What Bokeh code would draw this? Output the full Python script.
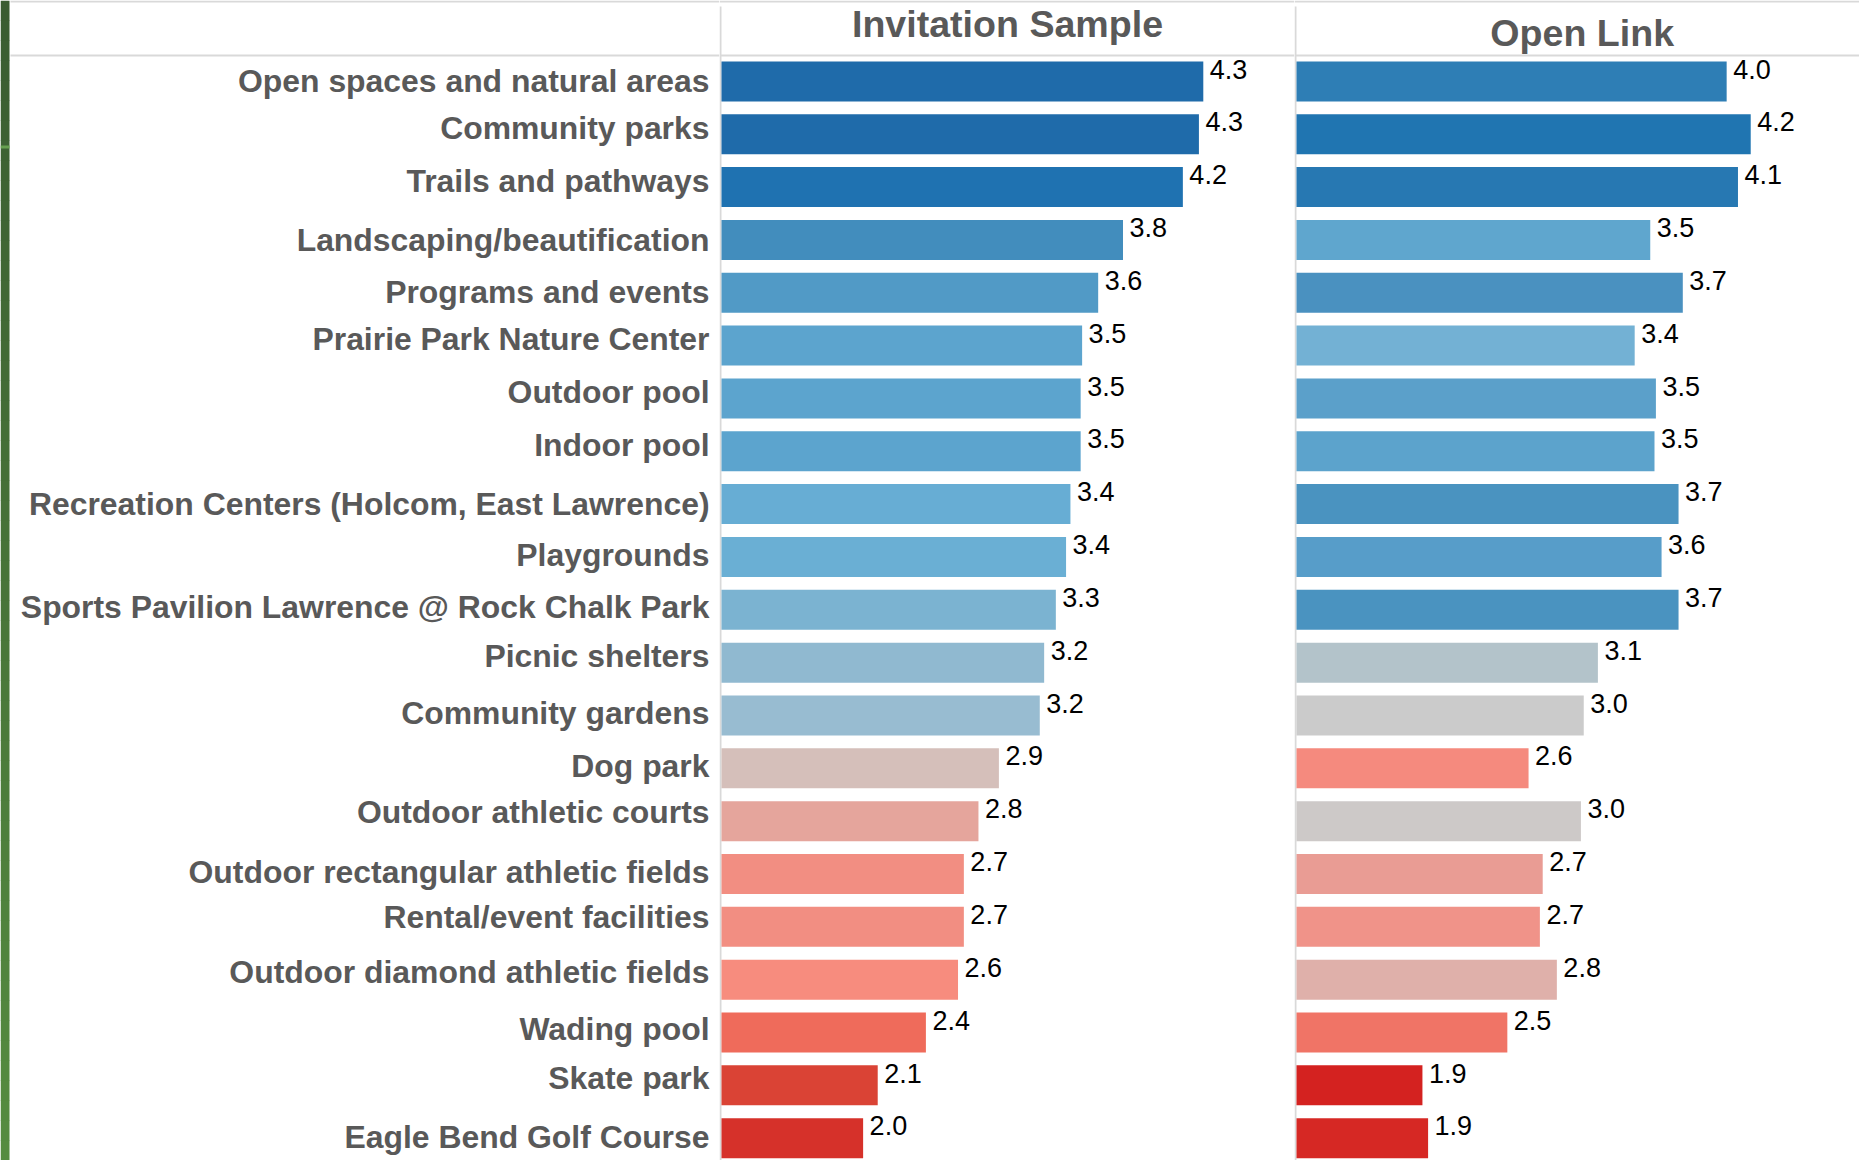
from bokeh.plotting import figure
from bokeh.layouts import row
from bokeh.models import Range1d, Span, ColumnDataSource
from bokeh.embed import file_html
from bokeh.resources import INLINE
from bokeh.core.properties import value

# ---------------- data ----------------
categories = [
    "Open spaces and natural areas",
    "Community parks",
    "Trails and pathways",
    "Landscaping/beautification",
    "Programs and events",
    "Prairie Park Nature Center",
    "Outdoor pool",
    "Indoor pool",
    "Recreation Centers (Holcom, East Lawrence)",
    "Playgrounds",
    "Sports Pavilion Lawrence @ Rock Chalk Park",
    "Picnic shelters",
    "Community gardens",
    "Dog park",
    "Outdoor athletic courts",
    "Outdoor rectangular athletic fields",
    "Rental/event facilities",
    "Outdoor diamond athletic fields",
    "Wading pool",
    "Skate park",
    "Eagle Bend Golf Course",
]
invitation = [4.30, 4.27, 4.16, 3.75, 3.58, 3.47, 3.46, 3.46, 3.39, 3.36, 3.29,
              3.21, 3.18, 2.90, 2.76, 2.66, 2.66, 2.62, 2.40, 2.07, 1.97]
open_link = [4.04, 4.21, 4.12, 3.50, 3.73, 3.39, 3.54, 3.53, 3.70, 3.58, 3.70,
             3.13, 3.03, 2.64, 3.01, 2.74, 2.72, 2.84, 2.49, 1.89, 1.93]
panel_titles = ["Invitation Sample", "Open Link"]

# ---------------- styles ----------------
inv_colors = ["#1F6BAA", "#1F6BAA", "#1F72B1", "#428DBD", "#519AC6", "#5CA4CE",
              "#5CA4CE", "#5CA4CE", "#67ADD4", "#6AAFD4", "#7BB3D1", "#90B9D0",
              "#98BCD1", "#D5BFBA", "#E5A59C", "#F28E82", "#F28E82", "#F78C7E",
              "#EF6B5B", "#DA4335", "#D6312A"]
ol_colors = ["#2E7EB5", "#2075B1", "#2778B2", "#5FA6CE", "#4A91C0", "#73B1D4",
             "#5BA0CA", "#5CA3CC", "#4A93C0", "#579DC9", "#4A93C0", "#B3C3CA",
             "#CBCBCB", "#F58A7E", "#CDC9C8", "#E99C94", "#F09389", "#DFB0AA",
             "#F07466", "#D42220", "#D62824"]
# small upward nudges (px) of the category labels, as placed in the original
label_nudge_px = [0, 5.5, 5.9, 0, 0.2, 6.5, 6.2, 6.3, 0.2, 2.0, 2.8,
                  6.3, 1.9, 1.6, 9.1, 1.2, 9.1, 7.0, 3.1, 6.6, 0.9]

FONT = "Liberation Sans"
GRID = "#d9d9d9"
LABEL = "#595959"
SHIFT = 0.37  # em, vertical correction of the svg text baseline

H = 1160
ROW_PX = 52.84
FIRST_ROW_PX = 80.9
Y_TOP = FIRST_ROW_PX / ROW_PX
Y_BOT = -(H - FIRST_ROW_PX) / ROW_PX
yr = Range1d(start=Y_BOT, end=Y_TOP)


def ypx(px):
    return Y_TOP - px / ROW_PX


rows_y = [-i for i in range(len(categories))]


def base_fig(width, xr):
    p = figure(width=width, height=H, x_range=xr, y_range=yr,
               output_backend="svg", toolbar_location=None,
               x_axis_location=None, y_axis_location=None,
               min_border=0, outline_line_color=None,
               background_fill_color="white", border_fill_color="white")
    p.xgrid.grid_line_color = None
    p.ygrid.grid_line_color = None
    return p


# ---------------- label column ----------------
WL = 719
pl = base_fig(WL, Range1d(0, WL))

# green strip (gradient)
N = 58
c0 = (58, 92, 49)
c1 = (85, 140, 64)
tops, bots, cols = [], [], []
for k in range(N):
    t = k / (N - 1)
    c = tuple(int(round(c0[j] + (c1[j] - c0[j]) * t)) for j in range(3))
    tops.append(ypx(k * H / N))
    bots.append(ypx((k + 1) * H / N + 0.5))
    cols.append("#%02x%02x%02x" % c)
pl.quad(left=0, right=9, top=tops, bottom=bots, fill_color=cols, line_color=None)
pl.quad(left=[0], right=[9], top=[ypx(145)], bottom=[ypx(148)],
        fill_color="#67a050", line_color=None)

pl.segment(x0=[10], y0=[ypx(1)], x1=[WL], y1=[ypx(1)], line_color=GRID, line_width=2)
pl.segment(x0=[10], y0=[ypx(55)], x1=[WL], y1=[ypx(55)], line_color=GRID, line_width=2)

LAB_FS = 31.9
lab_src = ColumnDataSource(dict(
    x=[709] * len(categories),
    y=[r + (n - (0.358 - SHIFT) * LAB_FS) / ROW_PX for r, n in zip(rows_y, label_nudge_px)],
    t=categories))
pl.text(x="x", y="y", text="t", source=lab_src, text_align="right",
        text_baseline="alphabetic", text_font=value(FONT), text_font_style="bold",
        text_font_size=f"{LAB_FS}px", text_color=LABEL)


# ---------------- panels ----------------
def panel(width, k, vals, colors, title, title_px, title_center_px):
    xr = Range1d(1 - 2 / k, 1 + (width - 2) / k)
    p = base_fig(width, xr)
    p.add_layout(Span(location=ypx(1), dimension="width", line_color=GRID, line_width=2))
    p.add_layout(Span(location=ypx(55), dimension="width", line_color=GRID, line_width=2))
    p.segment(x0=[1 - 1 / k], y0=[ypx(6)], x1=[1 - 1 / k], y1=[Y_BOT],
              line_color=GRID, line_width=2)
    VAL_FS = 27
    src = ColumnDataSource(dict(y=rows_y, v=vals, c=colors,
                                ty=[r + (12 + (SHIFT - 0.358) * VAL_FS) / ROW_PX for r in rows_y],
                                t=[f"{v:.1f}" for v in vals]))
    p.hbar(y="y", left=1, right="v", height=40 / ROW_PX, fill_color="c",
           line_color=None, source=src)
    p.text(x="v", y="ty", text="t", source=src, x_offset=6.5, text_align="left",
           text_baseline="alphabetic", text_font=value(FONT),
           text_font_size=f"{VAL_FS}px", text_color="black")
    TFS = 37.6
    p.text(x=[1 + (title_px - 2) / k],
           y=[ypx(title_center_px) + (SHIFT - 0.358) * TFS / ROW_PX], text=[title],
           text_align="center", text_baseline="alphabetic", text_font=value(FONT),
           text_font_style="bold", text_font_size=f"{TFS}px", text_color=LABEL)
    return p


pa = panel(575, 146.0, invitation, inv_colors, panel_titles[0], 288, 23.7)
pb = panel(565, 141.5, open_link, ol_colors, panel_titles[1], 287.7, 32.5)

layout = row(pl, pa, pb)
open("out.html", "w").write(file_html(layout, INLINE))
